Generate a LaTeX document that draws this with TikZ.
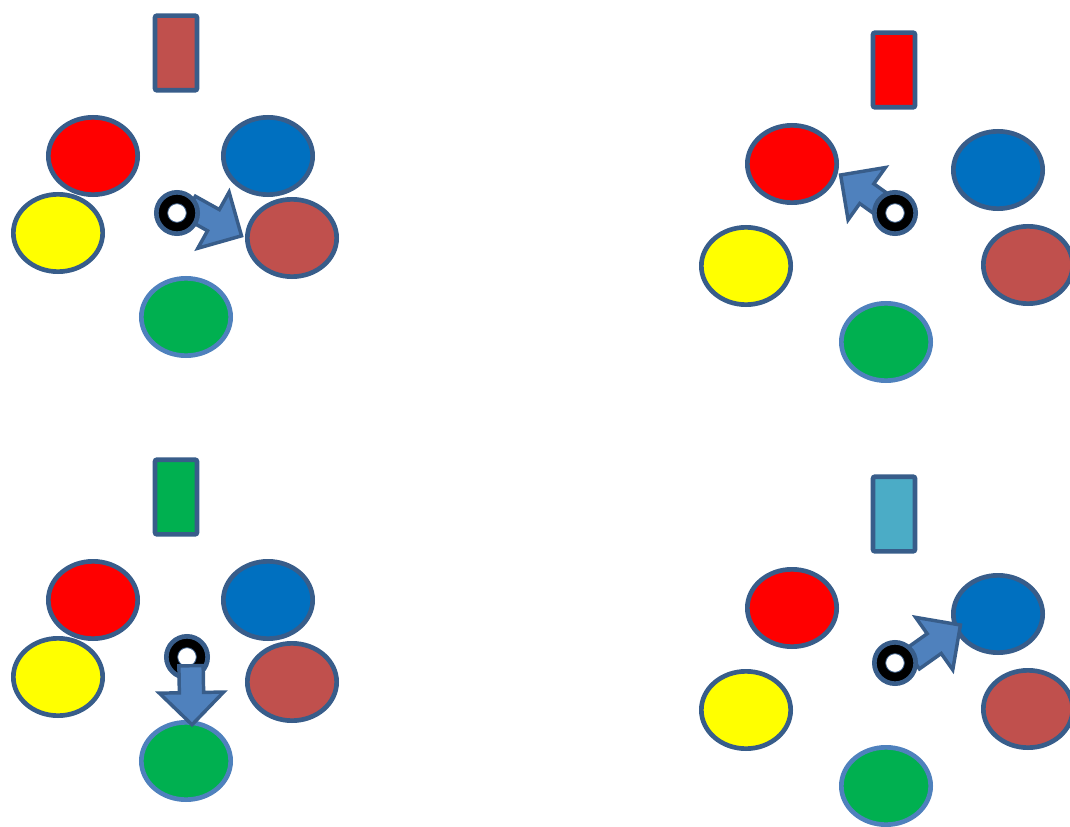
\documentclass[tikz,border=0pt]{standalone}
\usetikzlibrary{shapes.geometric,shapes.arrows,calc}
\definecolor{cred}{RGB}{255,0,0}
\definecolor{cblue}{RGB}{0,112,192}
\definecolor{cyel}{RGB}{255,255,0}
\definecolor{cbrown}{RGB}{192,80,77}
\definecolor{cgreen}{RGB}{0,176,80}
\definecolor{cteal}{RGB}{75,172,198}
\definecolor{dblue}{RGB}{56,93,138}
\definecolor{lblue}{RGB}{79,129,189}

\begin{document}
\begin{tikzpicture}[x=0.75pt,y=-0.75pt,
        ell/.style={ellipse,draw=dblue,line width=3.5pt,minimum width=67pt,minimum height=58pt,inner sep=0pt},
        bar/.style={rectangle,draw=dblue,line width=3.5pt,minimum width=31.5pt,minimum height=56pt,rounded corners=1.5pt,inner sep=0pt},
        ring/.style={circle,fill=black,draw=dblue,line width=3.5pt,minimum size=31pt,inner sep=0pt},
        hole/.style={circle,fill=white,draw=dblue,line width=0.6pt,minimum size=14pt,inner sep=0pt},
        barrow/.style={single arrow,fill=lblue,draw=dblue,line width=2.6pt,inner xsep=0pt,inner ysep=7.8pt,
          single arrow head extend=15pt,single arrow tip angle=90,single arrow head indent=0pt}]
        \useasboundingbox (0,0) rectangle (1070,827);
        \clip (0,0) rectangle (1070,827);
        % left column
        \foreach \k/\oy/\c in {1/0/cbrown,3/444/cgreen}
          {\node[bar,fill=\c](bar\k) at (176,{53+\oy}){};
           \node[ell,fill=cred](red\k) at (93,{156+\oy}){};
           \node[ell,fill=cblue](blue\k) at (268,{156+\oy}){};
           \node[ell,fill=cyel](yel\k) at (58,{233+\oy}){};
           \node[ell,fill=cbrown](brown\k) at (292,{238+\oy}){};
           \node[ell,fill=cgreen,draw=lblue](green\k) at (186,{317+\oy}){};}
        % right column
        \foreach \k/\oy/\c in {2/0/cred,4/444/cteal}
          {\node[bar,fill=\c](bar\k) at (894,{70+\oy}){};
           \node[ell,fill=cred](red\k) at (792,{164+\oy}){};
           \node[ell,fill=cblue](blue\k) at (998,{170+\oy}){};
           \node[ell,fill=cyel](yel\k) at (746,{266+\oy}){};
           \node[ell,fill=cbrown](brown\k) at (1028,{265+\oy}){};
           \node[ell,fill=cgreen,draw=lblue](green\k) at (886,{342+\oy}){};}
        \coordinate (tail1) at (188,206); \coordinate (tip1) at (240,235);
        \coordinate (tail2) at (891,211); \coordinate (tip2) at (842,176);
        \coordinate (tail3) at (191,664); \coordinate (tip3) at (192,723);
        \coordinate (tail4) at (911,660); \coordinate (tip4) at (959,626);
        \foreach \k in {1,2,4}
          {\path let \p1=($(tip\k)-(tail\k)$),\n1={atan2(\y1,\x1)},\n2={veclen(\x1,\y1)} in
             node[barrow,rotate=\n1,anchor=tail,minimum height=\n2](arr\k) at (tail\k){};}
        \foreach \k/\x/\y in {1/177/213,2/895/213,3/187/657,4/895/663}
          {\node[ring](ring\k) at (\x,\y){};
           \node[hole](hole\k) at (ring\k){};}
        \path let \p1=($(tip3)-(tail3)$),\n1={atan2(\y1,\x1)},\n2={veclen(\x1,\y1)} in
             node[barrow,rotate=\n1,anchor=tail,minimum height=\n2](arr3) at (tail3){};
      \end{tikzpicture}
\end{document}
